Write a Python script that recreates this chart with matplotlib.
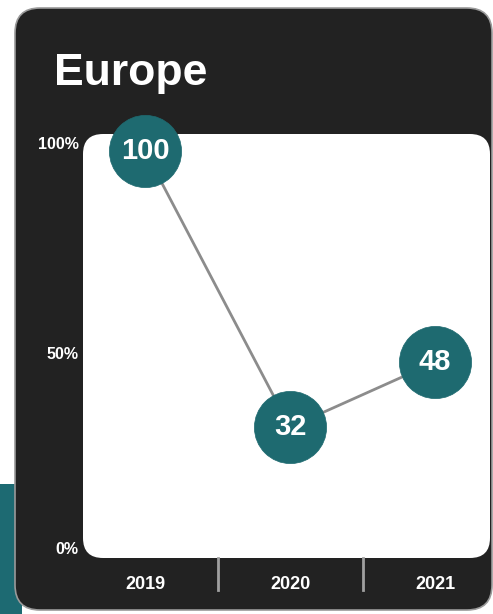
import matplotlib
matplotlib.use("Agg")
import matplotlib.pyplot as plt
from matplotlib.patches import FancyBboxPatch, Rectangle
import matplotlib.transforms as mtransforms

plt.rcParams['font.family'] = ['Liberation Sans', 'DejaVu Sans']

title = "Europe"
years = ["2019", "2020", "2021"]
values = [100, 32, 48]
ytick_vals = [0, 50, 100]
ytick_labels = ["0%", "50%", "100%"]

W, H = 493, 614
DPI = 100
fig = plt.figure(figsize=(W / DPI, H / DPI), dpi=DPI)
fig.patch.set_facecolor("white")

def px(x, y):
    # convert top-left pixel coords to inches from bottom-left
    return x / DPI, (H - y) / DPI

inch = fig.dpi_scale_trans

# teal strip at left bottom
x0, y0 = px(0, 614)
fig.patches.append(Rectangle((x0, y0), 22 / DPI, 130 / DPI, transform=inch,
                             facecolor="#1d6a72", edgecolor="none", zorder=0))

# black rounded panel
x0, y0 = px(15, 610)
fig.patches.append(FancyBboxPatch((x0 + 0.25, y0 + 0.25), (492 - 15) / DPI - 0.5, (610 - 8) / DPI - 0.5,
                                  boxstyle="round,pad=0.25", transform=inch,
                                  facecolor="#222222", edgecolor="#9a9a9a", linewidth=1.2, zorder=1))

# white rounded plot area
L, T, R, B = 83, 134, 490, 558
x0, y0 = px(L, B)
r = 0.2
fig.patches.append(FancyBboxPatch((x0 + r, y0 + r), (R - L) / DPI - 2 * r, (B - T) / DPI - 2 * r,
                                  boxstyle="round,pad=%g" % r, transform=inch,
                                  facecolor="white", edgecolor="none", zorder=2))

# title
fig.text(54 / W, 1 - 73 / H, title, color="white", fontsize=32, fontweight="bold",
         ha="left", va="center", zorder=5)

ax = fig.add_axes([L / W, 1 - B / H, (R - L) / W, (B - T) / H])
ax.set_facecolor("none")
ax.set_zorder(3)
xs = list(range(len(years)))
ax.plot(xs, values, color="#8c8c8c", linewidth=2, zorder=3, clip_on=False)
ax.plot(xs, values, linestyle="none", marker="o", markersize=52,
        markerfacecolor="#1e6a70", markeredgecolor="#1e6a70", markeredgewidth=0.5,
        zorder=4, clip_on=False)
for x, v in zip(xs, values):
    ax.text(x, v, str(v), color="white", fontsize=21, fontweight="bold",
            ha="center", va="center", zorder=5)

ax.set_xlim(-0.428, 2.379)
ax.set_ylim(-0.2, 104.2)
for s in ax.spines.values():
    s.set_visible(False)
ax.set_yticks(ytick_vals)
ax.set_yticklabels(ytick_labels)
ax.set_xticks(xs)
ax.set_xticklabels(years)
ax.tick_params(axis="y", length=0, pad=3, labelcolor="white", labelsize=11.5)
ax.tick_params(axis="x", length=0, pad=13, labelcolor="white", labelsize=13)
for lab in ax.get_xticklabels() + ax.get_yticklabels():
    lab.set_fontweight("bold")
# nudge the 0% and 100% labels upward slightly, as in the reference
for lab, dy in zip(ax.get_yticklabels(), [9, 1, 8]):
    lab.set_transform(lab.get_transform() + mtransforms.Affine2D().translate(0, dy))

# separators between year labels
trans = mtransforms.blended_transform_factory(ax.transData, ax.transAxes)
for xm in [0.5, 1.5]:
    ax.plot([xm, xm], [0, -32 / (B - T)], transform=trans, color="#a0a0a0",
            linewidth=2, clip_on=False, zorder=3)

fig.savefig("out.png", dpi=DPI)
